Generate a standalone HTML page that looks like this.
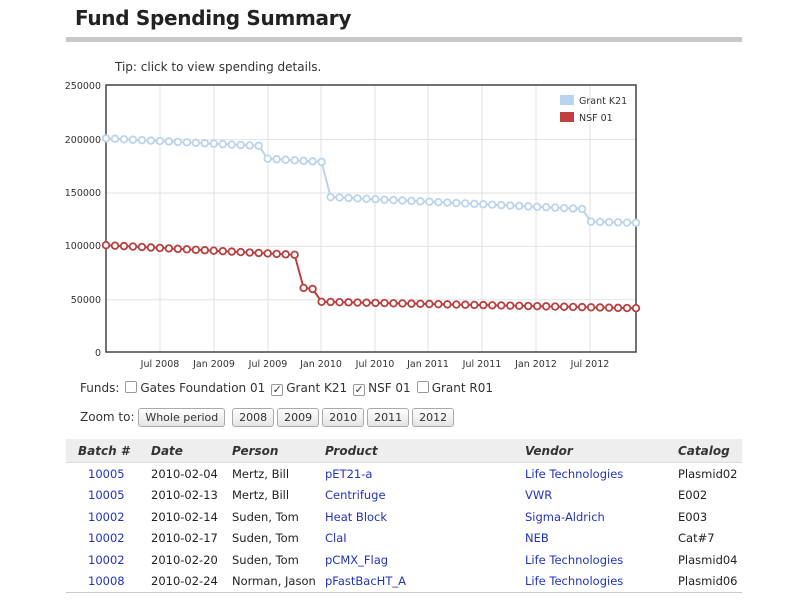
<!DOCTYPE html>
<html><head><style>
body{margin:0;width:800px;height:600px;background:#fff;font-family:"DejaVu Sans","Liberation Sans",sans-serif;position:relative;overflow:hidden;color:#222}
.a{position:absolute;white-space:nowrap}
h1{position:absolute;left:75px;top:6px;margin:0;font-size:20px;font-weight:bold;color:#222;font-family:"DejaVu Sans",sans-serif;letter-spacing:-0.3px}
.bar{position:absolute;left:66px;top:37px;width:676px;height:5px;background:#c8c8c8}
.f{font-size:12px;color:#333}
.cb{display:inline-block;width:10px;height:10px;border:1px solid #999;border-radius:2px;vertical-align:-1px;margin:0 3px 0 6px;font-size:11px;line-height:10px;text-align:center}
.btn{display:inline-block;border:1px solid #aaa;border-radius:3px;background:linear-gradient(#fff,#e4e4e4);font-size:11px;padding:1px 6px;height:15px;line-height:15px;margin-right:3px}
table{position:absolute;left:66px;top:439px;width:676px;border-collapse:collapse;font-size:11.5px;border-bottom:1px solid #ccc;table-layout:fixed}
th{background:#eee;font-style:italic;text-align:left;height:23px;font-size:12px;color:#333;border-bottom:1px solid #ddd;padding:0}
td{height:21.5px;padding:0;overflow:hidden}
a{color:#2233bb;text-decoration:none}
</style></head><body>
<h1>Fund Spending Summary</h1>
<div class="bar"></div>
<div class="a f" style="left:115px;top:60px">Tip: click to view spending details.</div>
<svg class="a" style="left:0;top:0" width="800" height="400" id="s">
<g stroke="#e2e2e2" stroke-width="1" id="grid"></g>
<rect x="106" y="85" width="530" height="267" fill="none" stroke="#444" stroke-width="1.5"/>
<g font-size="9.5" fill="#333" font-family="DejaVu Sans,sans-serif" text-anchor="end">
<text x="101" y="89">250000</text><text x="101" y="143">200000</text><text x="101" y="196">150000</text><text x="101" y="249">100000</text><text x="101" y="303">50000</text><text x="101" y="356">0</text>
</g>
<g font-size="9.5" fill="#333" font-family="DejaVu Sans,sans-serif" text-anchor="middle">
<text x="160" y="367">Jul 2008</text><text x="214" y="367">Jan 2009</text><text x="268" y="367">Jul 2009</text><text x="321" y="367">Jan 2010</text><text x="375" y="367">Jul 2010</text><text x="428" y="367">Jan 2011</text><text x="482" y="367">Jul 2011</text><text x="536" y="367">Jan 2012</text><text x="590" y="367">Jul 2012</text>
</g>
<g id="ser"></g>
<rect x="560" y="95" width="14" height="10" fill="#b8d4f0"/>
<rect x="560" y="112" width="14" height="10" fill="#c04040"/>
<text x="579" y="104" font-size="9.5" fill="#333">Grant K21</text>
<text x="579" y="121" font-size="9.5" fill="#333">NSF 01</text>
</svg>
<div class="a f" style="left:80px;top:381px">Funds:<span class="cb"></span>Gates Foundation 01<span class="cb">✓</span>Grant K21<span class="cb">✓</span>NSF 01<span class="cb"></span>Grant R01</div>
<div class="a f" style="left:80px;top:408px">Zoom to: <span class="btn">Whole period</span> <span class="btn">2008</span><span class="btn">2009</span><span class="btn">2010</span><span class="btn">2011</span><span class="btn">2012</span></div>
<table>
<colgroup><col style="width:85px"><col style="width:81px"><col style="width:93px"><col style="width:200px"><col style="width:153px"><col></colgroup>
<tr><th style="padding-left:12px">Batch #</th><th>Date</th><th>Person</th><th>Product</th><th>Vendor</th><th>Catalog</th></tr>
<tr><td style="padding-left:22px"><a>10005</a></td><td>2010-02-04</td><td>Mertz, Bill</td><td><a>pET21-a</a></td><td><a>Life Technologies</a></td><td>Plasmid02</td></tr>
<tr><td style="padding-left:22px"><a>10005</a></td><td>2010-02-13</td><td>Mertz, Bill</td><td><a>Centrifuge</a></td><td><a>VWR</a></td><td>E002</td></tr>
<tr><td style="padding-left:22px"><a>10002</a></td><td>2010-02-14</td><td>Suden, Tom</td><td><a>Heat Block</a></td><td><a>Sigma-Aldrich</a></td><td>E003</td></tr>
<tr><td style="padding-left:22px"><a>10002</a></td><td>2010-02-17</td><td>Suden, Tom</td><td><a>ClaI</a></td><td><a>NEB</a></td><td>Cat#7</td></tr>
<tr><td style="padding-left:22px"><a>10002</a></td><td>2010-02-20</td><td>Suden, Tom</td><td><a>pCMX_Flag</a></td><td><a>Life Technologies</a></td><td>Plasmid04</td></tr>
<tr><td style="padding-left:22px"><a>10008</a></td><td>2010-02-24</td><td>Norman, Jason</td><td><a>pFastBacHT_A</a></td><td><a>Life Technologies</a></td><td>Plasmid06</td></tr>
</table>
<script>
var ns="http://www.w3.org/2000/svg",g=document.getElementById('grid'),s=document.getElementById('ser');
function el(t,a,p){var e=document.createElementNS(ns,t);for(var k in a)e.setAttribute(k,a[k]);p.appendChild(e);return e;}
[160,214,268,321,375,428,482,536,590].forEach(function(x){el('line',{x1:x,x2:x,y1:85,y2:352},g)});
[139.6,193,246.4,299.8].forEach(function(y){el('line',{x1:106,x2:636,y1:y,y2:y},g)});
function Y(v){return 352-v*267/250000}
function lin(a,b,i,i0,i1){return a+(b-a)*(i-i0)/Math.max(1,i1-i0)}
var B=[],R=[];
for(var i=0;i<60;i++){
 var b,r;
 if(i<=17)b=lin(200000,193000,i,0,17);else if(i<=24)b=lin(181000,178000,i,18,24);else if(i<=53)b=lin(145000,134000,i,25,53);else b=lin(122000,121000,i,54,59);
 if(i<=21)r=lin(100000,91000,i,0,21);else if(i==22)r=60000;else if(i==23)r=59000;else r=lin(47000,41000,i,24,59);
 B.push(b);R.push(r);}
[[B,'#bcd3ec'],[R,'#b84040']].forEach(function(d){
 var pts=d[0].map(function(v,i){return (106+i*530/59).toFixed(1)+','+Y(v).toFixed(1)}).join(' ');
 el('polyline',{points:pts,fill:'none',stroke:d[1],'stroke-width':2},s);
 d[0].forEach(function(v,i){el('circle',{cx:106+i*530/59,cy:Y(v),r:3.3,fill:'#fff',stroke:d[1],'stroke-width':1.8},s)});
});
</script>
</body></html>
